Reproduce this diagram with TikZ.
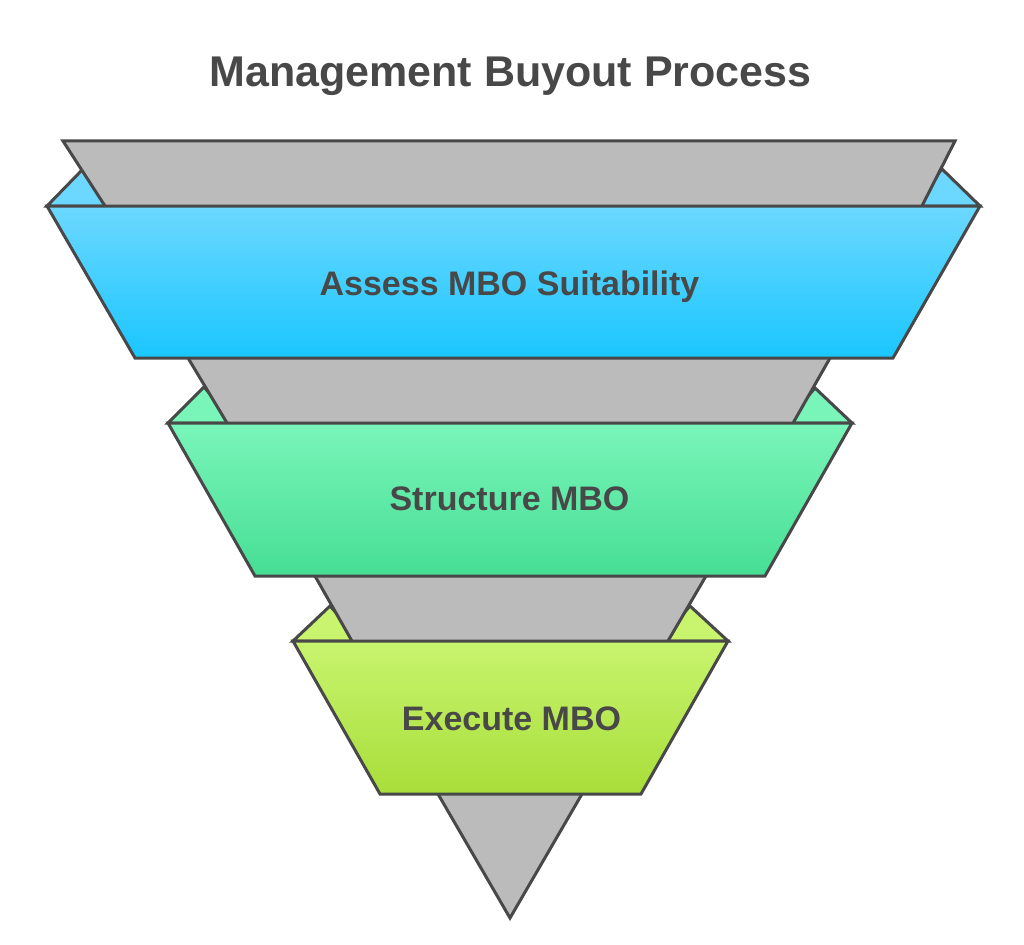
\documentclass[tikz,border=0pt]{standalone}
\usepackage{fontspec}
\setmainfont{Liberation Sans}
\definecolor{strokeC}{RGB}{72,72,72}
\definecolor{textC}{RGB}{72,72,72}
\definecolor{grayC}{RGB}{187,187,187}
\definecolor{blueTop}{RGB}{108,216,255}
\definecolor{blueBot}{RGB}{26,198,255}
\definecolor{greenTop}{RGB}{122,245,186}
\definecolor{greenBot}{RGB}{70,222,148}
\definecolor{limeTop}{RGB}{200,244,110}
\definecolor{limeBot}{RGB}{168,222,58}
\begin{document}
\begin{tikzpicture}[x=1pt,y=-1pt,
  outl/.style={draw=strokeC, line width=3pt},
  flapshape/.style={outl, fill=#1},
  funnel/.style={outl, fill=grayC},
  band/.style 2 args={outl, top color=#1, bottom color=#2},
  label/.style={anchor=base, text=textC, font=\fontsize{34}{40}\selectfont\bfseries, inner sep=0pt},
  titlestyle/.style={anchor=base, text=textC, font=\fontsize{43}{50}\selectfont\bfseries, inner sep=0pt}]
\useasboundingbox (0,0) rectangle (1024,944);
% flaps
\path[flapshape=blueTop] (47,206) -- (83,169) -- (112,206) -- cycle;
\path[flapshape=blueTop] (980,206) -- (942,169) -- (912,206) -- cycle;
\path[flapshape=greenTop] (168,423) -- (204,387) -- (235,423) -- cycle;
\path[flapshape=greenTop] (852,423) -- (815,388) -- (785,423) -- cycle;
\path[flapshape=limeTop] (293,641) -- (330,606) -- (362,641) -- cycle;
\path[flapshape=limeTop] (728,641) -- (690,606) -- (660,641) -- cycle;
% gray funnel pieces
\path[funnel] (63,141) -- (955,141) -- (906.7,236) -- (124.4,236) -- cycle;
\path[funnel] (176,338) -- (841.4,338) -- (776,453) -- (245,453) -- cycle;
\path[funnel] (303.6,556) -- (717.7,556) -- (650.4,671) -- (369,671) -- cycle;
\path[funnel] (426.4,774) -- (593.6,774) -- (510,918) -- cycle;
% bands
\path[band={blueTop}{blueBot}] (47,206) -- (980,206) -- (893,358) -- (135,358) -- cycle;
\path[band={greenTop}{greenBot}] (168,423) -- (852,423) -- (765,576) -- (255,576) -- cycle;
\path[band={limeTop}{limeBot}] (293,641) -- (728,641) -- (641,794) -- (380,794) -- cycle;
% texts
\node[titlestyle] (title) at (510.5,87) {Management Buyout Process};
\node[label] (assess) at (509.5,295) {Assess MBO Suitability};
\node[label] (structure) at (509.5,510) {Structure MBO};
\node[label] (execute) at (511.5,730) {Execute MBO};
\end{tikzpicture}
\end{document}
